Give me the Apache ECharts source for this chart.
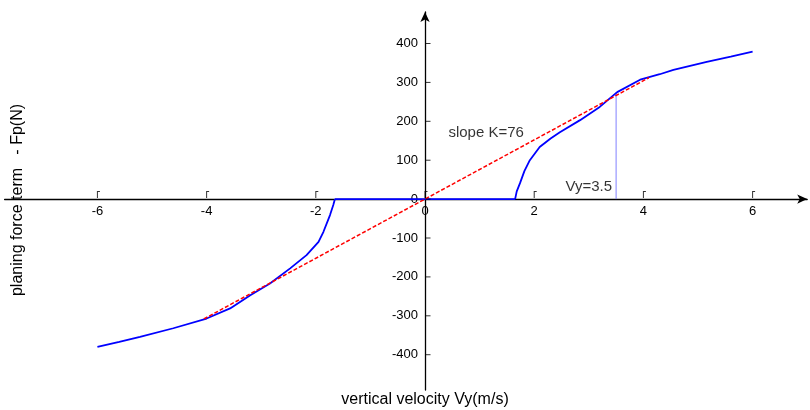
<!DOCTYPE html>
<html>
<head>
<meta charset="utf-8">
<script src="https://cdn.jsdelivr.net/npm/echarts@6/dist/echarts.min.js"></script>
<style>html,body{margin:0;padding:0;background:#fff}#c{width:810px;height:410px}</style>
</head>
<body>
<div id="c"></div>
<script>
// Blue curve: planing force vs vertical velocity
const velocity = [-6.0, -5.6, -5.22, -4.61, -4.0, -3.57, -3.2, -2.84, -2.47, -2.17, -1.95, -1.86, -1.74, -1.68, -1.65,
                  1.65, 1.68, 1.74, 1.82, 1.92, 2.1, 2.3, 2.47, 2.84, 3.2, 3.52, 3.94, 4.3, 4.55, 5.16, 5.6, 6.0];
const force    = [-380, -367, -354, -332, -307, -281, -247, -217, -178, -144, -110, -84, -41, -15, 0,
                  0, 20, 41, 72, 100, 134, 156, 172, 203, 237, 275, 307, 321, 332, 353, 366, 379];
// Red dashed linear fit, slope K=76
const fitVelocity = [-4.05, 4.1];
const fitForce = [-308, 312];
// Thin vertical marker at Vy=3.5
const markerVelocity = [3.5, 3.5];
const markerForce = [0, 275];
// Annotation texts
const notes = [[1.12, 170, 'slope K=76'], [3.0, 31, 'Vy=3.5']];
const xTicks = [-6, -4, -2, 0, 2, 4, 6];
const yTicks = [-400, -300, -200, -100, 0, 100, 200, 300, 400];

const flat = [[-1.65, 0], [1.65, 0]];
const blueData = velocity.map((v, i) => [v, force[i]]);
const fitData = fitVelocity.map((v, i) => [v, fitForce[i]]);
const markerData = markerVelocity.map((v, i) => [v, markerForce[i]]);
const xTickMarks = xTicks.map(v => [v, 0]);
const yTickMarks = yTicks.map(v => [0, v]);

const font = '"Liberation Sans", Arial, Helvetica, sans-serif';
const G = {left: 4.6, top: 12, width: 802.6, height: 378.1};
const X_MIN = -7.7, X_MAX = 7, Y_MIN = -491, Y_MAX = 481;
// axes drawn through the origin by offsetting them from the grid edges
const zeroX = G.left + (0 - X_MIN) / (X_MAX - X_MIN) * G.width;
const zeroY = G.top + (Y_MAX - 0) / (Y_MAX - Y_MIN) * G.height;

const blueStyle = {color: '#0000ff', width: 1.8};
const chart = echarts.init(document.getElementById('c'), null, {renderer: 'canvas'});
chart.setOption({
  animation: false,
  backgroundColor: '#fff',
  textStyle: {fontFamily: font},
  grid: Object.assign({containLabel: false, outerBoundsMode: 'none'}, G),
  xAxis: {
    type: 'value', min: X_MIN, max: X_MAX, position: 'bottom', offset: -(G.top + G.height - zeroY),
    splitLine: {show: false},
    axisLine: {onZero: false, lineStyle: {color: '#000', width: 1.3}, symbol: ['none', 'arrow'], symbolSize: [7, 10]},
    axisTick: {show: false},
    axisLabel: {customValues: xTicks, color: '#000', fontSize: 13, margin: 6, fontFamily: font}
  },
  yAxis: {
    type: 'value', min: Y_MIN, max: Y_MAX, position: 'left', offset: -(zeroX - G.left),
    splitLine: {show: false},
    axisLine: {onZero: false, lineStyle: {color: '#000', width: 1.3}, symbol: ['none', 'arrow'], symbolSize: [7, 10]},
    axisTick: {show: false},
    axisLabel: {customValues: yTicks, color: '#000', fontSize: 13, margin: 7, fontFamily: font}
  },
  series: [
    // tick marks placed through the axis scales
    {type: 'scatter', data: xTickMarks, symbol: 'path://M0,0 H3 V1 H1 V7 H0 Z', symbolSize: [3, 7], symbolKeepAspect: false,
     symbolOffset: [1, -4.5], itemStyle: {color: '#000'}, z: 6, silent: true},
    {type: 'scatter', data: yTickMarks, symbol: 'rect', symbolSize: [5, 1], symbolOffset: [3, 0],
     itemStyle: {color: '#000'}, z: 6, silent: true},
    {type: 'line', data: markerData, symbol: 'none', lineStyle: {color: '#8080ff', width: 1}, z: 2},
    {type: 'line', data: blueData.slice(0, 15), symbol: 'none', lineStyle: blueStyle, z: 3},
    {type: 'line', data: flat, symbol: 'none', lineStyle: blueStyle, z: 3},
    {type: 'line', data: blueData.slice(15), symbol: 'none', lineStyle: blueStyle, z: 3},
    {type: 'line', data: fitData, symbol: 'none', lineStyle: {color: '#ff0000', width: 1.5, type: [4, 2]}, z: 4},
    {type: 'scatter', data: notes, symbolSize: 1, itemStyle: {color: 'rgba(0,0,0,0)'},
     label: {show: true, position: 'inside', color: '#000', fontSize: 15, fontFamily: font,
             formatter: p => p.data[2]}, z: 5}
  ],
  graphic: [
    {type: 'text', x: 425, y: 400, style: {text: 'vertical velocity Vy(m/s)', font: '16px ' + font, fill: '#000', textAlign: 'center', textVerticalAlign: 'middle'}},
    {type: 'text', x: 18, y: 200, rotation: Math.PI / 2, style: {text: 'planing force term   - Fp(N)', font: '16px ' + font, fill: '#000', textAlign: 'center', textVerticalAlign: 'middle'}}
  ]
});
</script>
</body>
</html>
